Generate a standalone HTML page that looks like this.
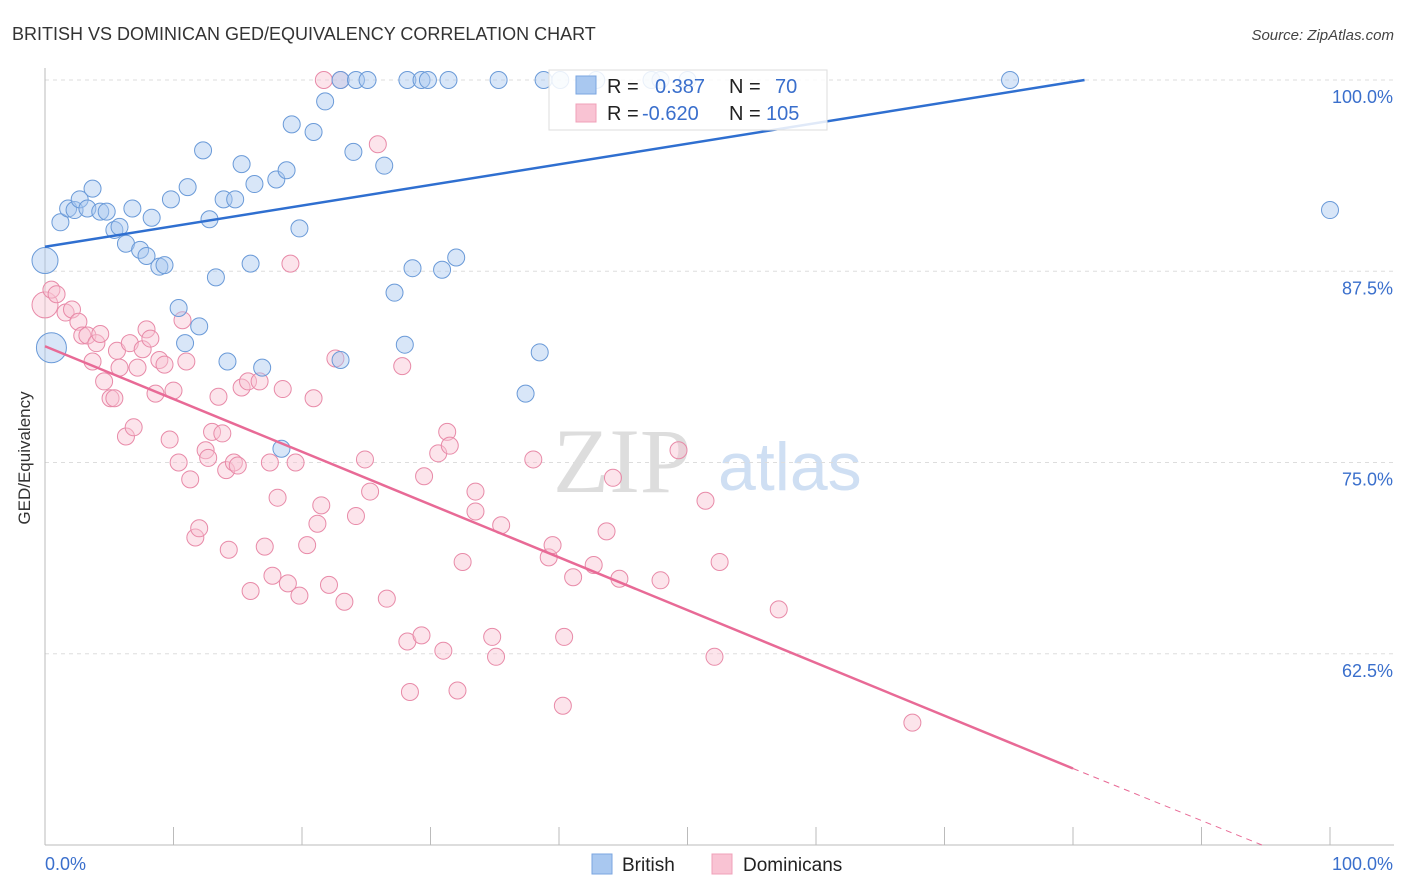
<!DOCTYPE html>
<html><head><meta charset="utf-8"><style>
body{margin:0;background:#fff;font-family:"Liberation Sans",sans-serif;}
svg{display:block}
</style></head><body>
<svg id="chart" width="1406" height="892" xmlns="http://www.w3.org/2000/svg">
<text x="12" y="40" font-size="18" fill="#333">BRITISH VS DOMINICAN GED/EQUIVALENCY CORRELATION CHART</text>
<text x="1394" y="40" font-size="15" fill="#444" text-anchor="end" font-style="italic">Source: ZipAtlas.com</text>
<text x="30" y="458" font-size="17" fill="#333" text-anchor="middle" transform="rotate(-90 30 458)">GED/Equivalency</text>
<g><text x="553" y="492" font-size="92" fill="#ddd" font-family="Liberation Serif,serif">ZIP</text><text x="718" y="490" font-size="68" fill="#cfdff3">atlas</text></g>
<g id="grid"></g><g id="axes"></g><g id="pts"></g><g id="lines"></g>
<g>
<rect x="549" y="70" width="278" height="60" fill="#fff" fill-opacity="0.85" stroke="#ddd"/>
<rect x="576" y="76" width="20" height="18" fill="#a9c8f0" stroke="#7aa6e0"/>
<rect x="576" y="104" width="20" height="18" fill="#f9c3d3" stroke="#f0a0b8"/>
<text x="607" y="93" font-size="20" fill="#222">R = </text><text x="655" y="93" font-size="20" fill="#3a6fcc">0.387</text>
<text x="729" y="93" font-size="20" fill="#222">N = </text><text x="775" y="93" font-size="20" fill="#3a6fcc">70</text>
<text x="607" y="120" font-size="20" fill="#222">R = </text><text x="642" y="120" font-size="20" fill="#3a6fcc">-0.620</text>
<text x="729" y="120" font-size="20" fill="#222">N = </text><text x="766" y="120" font-size="20" fill="#3a6fcc">105</text>
</g>
<g>
<rect x="592" y="854" width="20" height="20" fill="#a9c8f0" stroke="#7aa6e0"/><text x="622" y="871" font-size="19" fill="#222">British</text>
<rect x="712" y="854" width="20" height="20" fill="#f9c3d3" stroke="#f0a0b8"/><text x="743" y="871" font-size="19" fill="#222">Dominicans</text>
</g>
</svg>
<script>
const yTicks=[100,87.5,75,62.5];
const yTickLabels=["100.0%","87.5%","75.0%","62.5%"];
const xTickLabels=["0.0%","100.0%"];
const britishX=[0,0.5,1.2,1.8,2.3,2.7,3.3,3.7,4.3,4.8,5.4,5.8,6.3,6.8,7.4,7.9,8.3,8.9,9.3,9.8,10.4,10.9,11.1,12.0,12.3,12.8,13.3,13.9,14.2,14.8,15.3,16.0,16.3,16.9,18.0,18.4,18.8,19.2,19.8,20.9,21.8,23.0,23.0,24.0,24.2,25.1,26.4,27.2,28.0,28.2,28.6,29.3,29.8,30.9,31.4,32.0,35.3,37.4,38.5,38.8,40.1,42.9,47.2,47.9,50.0,75.1,100];
const britishY=[88.2,82.5,90.7,91.6,91.5,92.2,91.6,92.9,91.4,91.4,90.2,90.4,89.3,91.6,88.9,88.5,91.0,87.8,87.9,92.2,85.1,82.8,93.0,83.9,95.4,90.9,87.1,92.2,81.6,92.2,94.5,88.0,93.2,81.2,93.5,75.9,94.1,97.1,90.3,96.6,98.6,81.7,100,95.3,100,100,94.4,86.1,82.7,100,87.7,100,100,87.6,100,88.4,100,79.5,82.2,100,100,100,100,100,100,100,91.5];
const domX=[0,0.5,0.9,1.6,2.1,2.6,2.9,3.3,3.7,4.0,4.3,4.6,5.1,5.4,5.6,5.8,6.3,6.6,6.9,7.2,7.6,7.9,8.2,8.6,8.9,9.3,9.7,10.0,10.4,10.7,11.0,11.3,11.7,12.0,12.5,12.7,13.0,13.5,13.8,14.1,14.3,14.7,15.0,15.3,15.8,16.0,16.7,17.1,17.5,17.7,18.1,18.5,18.9,19.1,19.5,19.8,20.4,20.9,21.2,21.5,21.7,22.1,22.6,23.0,23.3,24.2,24.9,25.3,25.9,26.6,27.8,28.2,28.4,29.3,29.5,30.6,31.0,31.3,31.5,32.1,32.5,33.5,33.5,34.8,35.1,35.5,38.0,39.2,39.5,40.3,40.4,41.1,42.7,43.7,44.2,44.7,47.9,49.3,51.4,52.1,52.5,57.1,67.5];
const domY=[85.3,86.3,86.0,84.8,85.0,84.2,83.3,83.3,81.6,82.8,83.4,80.3,79.2,79.2,82.3,81.2,76.7,82.8,77.3,81.2,82.4,83.7,83.1,79.5,81.7,81.4,76.5,79.7,75.0,84.3,81.6,73.9,70.1,70.7,75.8,75.3,77.0,79.3,76.9,74.5,69.3,75.0,74.8,79.9,80.3,66.6,80.3,69.5,75.0,67.6,72.7,79.8,67.1,88.0,75.0,66.3,69.6,79.2,71.0,72.2,100,67.0,81.8,100,65.9,71.5,75.2,73.1,95.8,66.1,81.3,63.3,60.0,63.7,74.1,75.6,62.7,77.0,76.1,60.1,68.5,73.1,71.8,63.6,62.3,70.9,75.2,68.8,69.6,59.1,63.6,67.5,68.3,70.5,74.0,67.4,67.3,75.8,72.5,62.3,68.5,65.4,58.0];
const blueFit=[89.1,100,80.9]; // intercept, y-end, x-end
const pinkFit=[82.6,55.0,80,94.7];
const NS="http://www.w3.org/2000/svg";
const X0=45,X1=1330,Y0=845,Y1=80;
const sx=v=>X0+(X1-X0)*v/100;
const sy=v=>Y0-(Y0-Y1)*(v-50)/50;
function mk(tag,attrs,parent){const e=document.createElementNS(NS,tag);for(const k in attrs)e.setAttribute(k,attrs[k]);document.getElementById(parent).appendChild(e);return e;}
yTicks.forEach((t,i)=>{
 const g=mk('line',{x1:X0,x2:1394,y1:sy(t),y2:sy(t),stroke:'#ddd','stroke-dasharray':'4,4'},'grid');
 
 
 const l=mk('text',{x:1393,y:sy(t)+23,'font-size':18,fill:'#3a6fcc','text-anchor':'end'},'axes');
 l.textContent=yTickLabels[i];
 
 
});
const ax=mk('line',{x1:X0,x2:1394,y1:Y0,y2:Y0,stroke:'#bbb'},'axes');


const ay=mk('line',{x1:X0,x2:X0,y1:68,y2:Y0,stroke:'#bbb'},'axes');


for(let i=1;i<=10;i++){const t=mk('line',{x1:sx(i*10),x2:sx(i*10),y1:Y0,y2:Y0-18,stroke:'#bbb'},'axes');
 
 }
[[0,'start',X0],[1,'end',1393]].forEach(([i,a,x])=>{const t=mk('text',{x:x,y:870,'font-size':18,fill:'#3a6fcc','text-anchor':a},'axes');t.textContent=xTickLabels[i];
 
 });
function dots(xs,ys,fill,stroke,name){xs.forEach((x,i)=>{let r=8.5;if(x===0&&i===0)r=13;if(name==='british-point'&&i===1)r=15;
 const c=mk('circle',{cx:sx(x),cy:sy(ys[i]),r:r,fill:fill,'fill-opacity':0.45,stroke:stroke,'stroke-width':1},'pts');
 
 });}
dots(domX,domY,'#f9c3d3','#e88aa8','dominican-point');
dots(britishX,britishY,'#a9c8f0','#6a9ad8','british-point');
const bl=mk('line',{x1:sx(0),y1:sy(blueFit[0]),x2:sx(blueFit[2]),y2:sy(blueFit[1]),stroke:'#2f6fd0','stroke-width':2.5},'lines');


const pl=mk('line',{x1:sx(0),y1:sy(pinkFit[0]),x2:sx(pinkFit[2]),y2:sy(pinkFit[1]),stroke:'#e86a96','stroke-width':2.5},'lines');


const pd=mk('line',{x1:sx(pinkFit[2]),y1:sy(pinkFit[1]),x2:sx(pinkFit[3]),y2:sy(50),stroke:'#e86a96','stroke-width':1,'stroke-dasharray':'6,5'},'lines');


</script>
</body></html>
